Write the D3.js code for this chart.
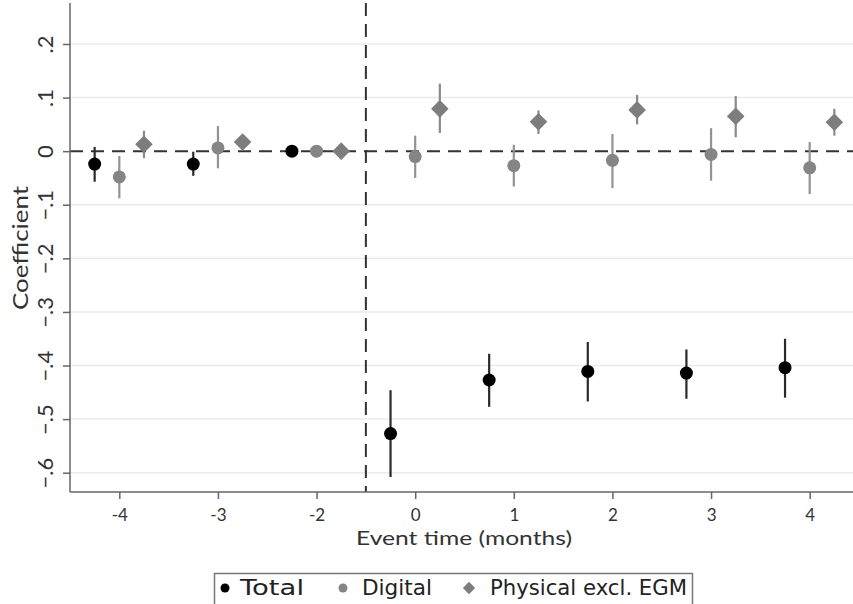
<!DOCTYPE html>
<html>
<head>
<meta charset="utf-8">
<script src="https://cdn.jsdelivr.net/npm/d3@7"></script>
<style>
  html, body { margin: 0; padding: 0; background: #fff; }
  svg { display: block; }
  text { font-family: Lato, "Open Sans", sans-serif; fill: #333; }
</style>
</head>
<body>
<script>
// Event-study coefficients with 95% confidence intervals, by month relative to the event
const periods = [-4, -3, -2, 0, 1, 2, 3, 4];

const totalCoef = [-0.024, -0.024, 0, -0.527, -0.427, -0.411, -0.414, -0.404];
const totalLo   = [-0.057, -0.046, null, -0.608, -0.477, -0.467, -0.462, -0.460];
const totalHi   = [0.008, -0.001, null, -0.446, -0.378, -0.356, -0.370, -0.350];

const digitalCoef = [-0.048, 0.006, 0, -0.010, -0.027, -0.017, -0.006, -0.031];
const digitalLo   = [-0.088, -0.032, null, -0.050, -0.066, -0.069, -0.055, -0.080];
const digitalHi   = [-0.009, 0.047, null, 0.029, 0.012, 0.032, 0.043, 0.017];

const physicalCoef = [0.013, 0.017, 0, 0.079, 0.055, 0.077, 0.065, 0.054];
const physicalLo   = [-0.013, 0.010, null, 0.034, 0.032, 0.050, 0.026, 0.029];
const physicalHi   = [0.038, 0.024, null, 0.126, 0.076, 0.105, 0.103, 0.079];

const yTicks = [0.2, 0.1, 0, -0.1, -0.2, -0.3, -0.4, -0.5, -0.6];
const seriesNames = ["Total", "Digital", "Physical excl. EGM"];

const W = 853, H = 604;
const plot = { left: 70, right: 859, top: 3, bottom: 492 };

const svg = d3.select("body").append("svg").attr("width", W).attr("height", H);

// periods are evenly spaced by position; the event happens between -2 and 0
const x = d3.scaleLinear().domain([-0.5, periods.length - 0.5]).range([plot.left, plot.right]);
const y = d3.scaleLinear().domain([-0.636, 0.2765]).range([plot.bottom, plot.top]);

const stataFmt = d => d === 0 ? "0" : d3.format(".1f")(d).replace("0.", ".");

// horizontal grid lines
svg.append("g").selectAll("line")
  .data(yTicks.filter(d => d !== 0))
  .join("line")
  .attr("x1", plot.left).attr("x2", W)
  .attr("y1", d => y(d)).attr("y2", d => y(d))
  .attr("stroke", "#ebebeb").attr("stroke-width", 1.5);

// reference lines: zero effect and event onset
svg.append("line")
  .attr("x1", plot.left).attr("x2", W)
  .attr("y1", y(0)).attr("y2", y(0))
  .attr("stroke", "#333").attr("stroke-width", 2).attr("stroke-dasharray", "13,8");
svg.append("line")
  .attr("x1", x(2.5)).attr("x2", x(2.5))
  .attr("y1", plot.top).attr("y2", plot.bottom)
  .attr("stroke", "#333").attr("stroke-width", 2).attr("stroke-dasharray", "13,8");

// y axis
const yAxis = d3.axisLeft(y).tickValues(yTicks).tickFormat(stataFmt).tickSize(7);
const gy = svg.append("g").attr("transform", `translate(${plot.left},0)`).call(yAxis);
gy.select(".domain").remove();
gy.selectAll(".tick line").attr("stroke", "#666").attr("stroke-width", 1.5);
gy.selectAll(".tick text")
  .attr("x", null).attr("dy", null)
  .attr("transform", "translate(-17,0) rotate(-90)")
  .attr("text-anchor", "middle")
  .attr("font-size", 22);
svg.append("line")
  .attr("x1", plot.left).attr("x2", plot.left)
  .attr("y1", plot.top).attr("y2", plot.bottom)
  .attr("stroke", "#666").attr("stroke-width", 1.5);

// x axis
const xAxis = d3.axisBottom(x).tickValues(d3.range(periods.length))
  .tickFormat(i => periods[i]).tickSize(7).tickPadding(10);
const gx = svg.append("g").attr("transform", `translate(0,${plot.bottom})`).call(xAxis);
gx.select(".domain").remove();
gx.selectAll(".tick line").attr("stroke", "#666").attr("stroke-width", 1.5);
gx.selectAll(".tick text").attr("font-size", 17);
svg.append("line")
  .attr("x1", plot.left).attr("x2", W)
  .attr("y1", plot.bottom).attr("y2", plot.bottom)
  .attr("stroke", "#666").attr("stroke-width", 1.5);

// axis titles
svg.append("text")
  .attr("transform", `translate(28,248) rotate(-90)`)
  .attr("text-anchor", "middle")
  .attr("font-size", 22)
  .attr("textLength", 124).attr("lengthAdjust", "spacingAndGlyphs")
  .text("Coefficient");
svg.append("text")
  .attr("x", 464).attr("y", 545)
  .attr("text-anchor", "middle")
  .attr("font-size", 20)
  .attr("textLength", 216).attr("lengthAdjust", "spacingAndGlyphs")
  .text("Event time (months)");

const diamond = r => `M0,${-r}L${r},0L0,${r}L${-r},0Z`;

const series = [
  { name: seriesNames[0], coef: totalCoef, lo: totalLo, hi: totalHi, offset: -0.25,
    fill: "#000", ci: "#2a2a2a", shape: "circle", size: 6.5 },
  { name: seriesNames[1], coef: digitalCoef, lo: digitalLo, hi: digitalHi, offset: 0,
    fill: "#858585", ci: "#939393", shape: "circle", size: 6.5 },
  { name: seriesNames[2], coef: physicalCoef, lo: physicalLo, hi: physicalHi, offset: 0.25,
    fill: "#7d7d7d", ci: "#8a8a8a", shape: "diamond", size: 8.8 }
];

series.forEach(s => {
  const rows = periods.map((p, i) => ({ i, coef: s.coef[i], lo: s.lo[i], hi: s.hi[i] }));
  const g = svg.append("g");
  g.selectAll("line")
    .data(rows.filter(r => r.lo !== null))
    .join("line")
    .attr("x1", r => x(r.i + s.offset)).attr("x2", r => x(r.i + s.offset))
    .attr("y1", r => y(r.lo)).attr("y2", r => y(r.hi))
    .attr("stroke", s.ci).attr("stroke-width", 2.2);
  if (s.shape === "circle") {
    g.selectAll("circle").data(rows).join("circle")
      .attr("cx", r => x(r.i + s.offset)).attr("cy", r => y(r.coef))
      .attr("r", s.size).attr("fill", s.fill);
  } else {
    g.selectAll("path").data(rows).join("path")
      .attr("transform", r => `translate(${x(r.i + s.offset)},${y(r.coef)})`)
      .attr("d", diamond(s.size)).attr("fill", s.fill);
  }
});

// legend
const legend = svg.append("g");
legend.append("rect")
  .attr("x", 214.5).attr("y", 573.5).attr("width", 478).attr("height", 34)
  .attr("fill", "#fff").attr("stroke", "#777").attr("stroke-width", 1.5);
const legendItems = [
  { s: series[0], mx: 225, tx: 240, tw: 64 },
  { s: series[1], mx: 343, tx: 362, tw: 70 },
  { s: series[2], mx: 469, tx: 490, tw: 197 }
];
legendItems.forEach(it => {
  if (it.s.shape === "circle") {
    legend.append("circle").attr("cx", it.mx).attr("cy", 588).attr("r", 4.5).attr("fill", it.s.fill);
  } else {
    legend.append("path").attr("transform", `translate(${it.mx},588)`)
      .attr("d", diamond(6.2)).attr("fill", it.s.fill);
  }
  legend.append("text")
    .attr("x", it.tx).attr("y", 595)
    .style("font-family", "'DejaVu Sans', sans-serif")
    .style("fill", "#222")
    .attr("font-size", 21.5)
    .attr("textLength", it.tw).attr("lengthAdjust", "spacingAndGlyphs")
    .text(it.s.name);
});
</script>
</body>
</html>
